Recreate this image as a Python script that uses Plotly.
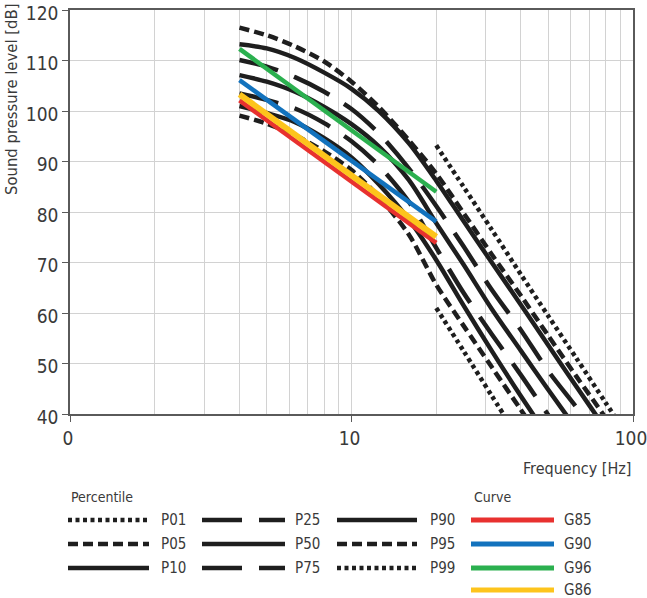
import plotly.graph_objects as go

# ---------------- data ----------------
F_ALL = [4, 5, 6.3, 8, 10, 12.5, 16, 20, 25, 31.5, 40, 50, 63, 80, 100]
F_P01 = [20, 25, 31.5, 40]
F_P99 = [20, 25, 31.5, 40, 50, 63, 80, 100]

P01 = [61.0, 52.5, 43.6, 34.5]
P05 = [99.1, 97.5, 95.2, 92.0, 88.3, 83.0, 75.5, 65.6, 57.5, 49.3, 40.8, 33.0]
P10 = [101.0, 99.6, 97.8, 94.6, 90.8, 85.5, 78.5, 70.5, 61.5, 52.5, 43.5, 35.5]
P25 = [103.5, 102.2, 100.5, 97.6, 94.0, 89.2, 82.0, 72.9, 64.0, 55.8, 47.7, 39.8, 32.0]
P50 = [107.1, 105.8, 103.8, 100.8, 97.4, 93.0, 86.3, 77.8, 69.6, 60.8, 52.5, 44.8, 37.0]
P75 = [110.1, 108.8, 106.7, 103.8, 100.4, 95.6, 88.6, 81.2, 73.2, 64.6, 56.6, 48.5, 41.3, 33.5]
P90 = [113.2, 112.4, 110.5, 107.6, 104.4, 100.0, 93.6, 86.2, 78.2, 70.0, 61.6, 53.6, 45.4, 37.0, 29.0]
P95 = [116.5, 115.0, 112.8, 109.8, 105.8, 100.8, 94.2, 87.6, 79.8, 71.6, 63.4, 55.5, 47.4, 39.2, 31.0]
P99 = [93.2, 85.0, 76.5, 67.6, 59.4, 51.0, 42.2, 34.0]

G_FREQ = [4, 20]
G85 = [102.1, 73.9]
G90 = [106.1, 78.1]
G96 = [112.3, 84.0]
G86 = [103.3, 75.1]

X_TICKS = [1, 10, 100]
X_TICKTEXT = ["0", "10", "100"]
X_MINOR = [2, 3, 4, 5, 6, 7, 8, 9, 20, 30, 40, 50, 60, 70, 80, 90]
Y_TICKS = [40, 50, 60, 70, 80, 90, 100, 110, 120]

# ---------------- styles ----------------
FONT = "Liberation Sans Narrow, Arial Narrow, DejaVu Sans Condensed, sans-serif"
TXT = "#3a3a3a"
BLACK = "#1e1e1e"
DOT = "4px,3.5px"
DASH = "10px,5px"
LONG = "40px,17px"
LW = 4.5

perc = [
    ("P01", F_P01, P01, DOT),
    ("P05", F_ALL, P05, DASH),
    ("P10", F_ALL, P10, "solid"),
    ("P25", F_ALL, P25, LONG),
    ("P50", F_ALL, P50, "solid"),
    ("P75", F_ALL, P75, LONG),
    ("P90", F_ALL, P90, "solid"),
    ("P95", F_ALL, P95, DASH),
    ("P99", F_P99, P99, DOT),
]
gcurves = [
    ("G85", G85, "#e8312f", 4.5),
    ("G86", G86, "#fdc41c", 6.0),
    ("G90", G90, "#1272bd", 4.5),
    ("G96", G96, "#2bb04f", 4.5),
]

fig = go.Figure()
for name, fx, fy, dash in perc:
    fig.add_trace(go.Scatter(
        x=fx[:len(fy)], y=fy, mode="lines", name=name, showlegend=False,
        line=dict(color=BLACK, width=LW, dash=dash, shape="spline", smoothing=0.8),
    ))
for name, gy, col, w in gcurves:
    fig.add_trace(go.Scatter(
        x=G_FREQ, y=gy, mode="lines", name=name, showlegend=False,
        line=dict(color=col, width=w),
    ))

W, H = 647, 598
L, R, T, B = 70, 14, 10, 184
PW, PH = W - L - R, H - T - B


def px(x):
    return (x - L) / PW


def py(y):
    return (H - B - y) / PH


fig.update_layout(
    width=W, height=H,
    margin=dict(l=L, r=R, t=T, b=B, autoexpand=False),
    paper_bgcolor="white", plot_bgcolor="white",
    font=dict(family=FONT, color=TXT),
    showlegend=False,
    xaxis=dict(
        type="log", range=[0, 2], automargin=False,
        tickmode="array", tickvals=X_TICKS, ticktext=X_TICKTEXT,
        tickfont=dict(size=19, family=FONT, color=TXT),
        ticklabeloverflow="allow", ticklabelshift=-2,
        showgrid=True, gridcolor="#d2d2d2", gridwidth=1,
        minor=dict(tickmode="array", tickvals=X_MINOR, showgrid=True,
                   gridcolor="#d2d2d2", gridwidth=1, ticks=""),
        showline=True, linecolor="#5a5a5a", linewidth=1.5, mirror=True,
        ticks="outside", ticklen=6, tickcolor="#5a5a5a",
        zeroline=False,
    ),
    yaxis=dict(
        range=[40, 120], automargin=False, tickmode="array", tickvals=Y_TICKS,
        tickfont=dict(size=19, family=FONT, color=TXT),
        ticklabeloverflow="allow", ticklabelshift=3,
        showgrid=True, gridcolor="#d2d2d2", gridwidth=1,
        showline=True, linecolor="#5a5a5a", linewidth=1.5, mirror=True,
        ticks="outside", ticklen=6, tickcolor="#5a5a5a",
        zeroline=False,
    ),
)

ann = []
shapes = []
# axis titles
ann.append(dict(text="Sound pressure level [dB]", textangle=-90, xref="paper", yref="paper",
                x=px(12), y=py(100), xanchor="center", yanchor="middle", showarrow=False,
                font=dict(size=16.5, family=FONT, color=TXT)))
ann.append(dict(text="Frequency [Hz]", xref="paper", yref="paper",
                x=px(633), y=py(469), xanchor="right", yanchor="middle", showarrow=False,
                font=dict(size=16, family=FONT, color=TXT)))
# legend headers
ann.append(dict(text="Percentile", xref="paper", yref="paper", x=px(69), y=py(497),
                xanchor="left", yanchor="middle", showarrow=False,
                font=dict(size=14, family=FONT, color=TXT)))
ann.append(dict(text="Curve", xref="paper", yref="paper", x=px(472), y=py(497),
                xanchor="left", yanchor="middle", showarrow=False,
                font=dict(size=14, family=FONT, color=TXT)))

ROWS = [520, 544, 568, 590]
COLS = [(68, 149, 159), (202, 285, 293), (337, 417, 428)]
for i, (name, _, _, dash) in enumerate(perc):
    c, r = divmod(i, 3)
    x0, x1, lx = COLS[c]
    y = ROWS[r]
    shapes.append(dict(type="line", xref="paper", yref="paper", x0=px(x0), x1=px(x1),
                       y0=py(y), y1=py(y), line=dict(color=BLACK, width=LW, dash=dash)))
    ann.append(dict(text=name, xref="paper", yref="paper", x=px(lx), y=py(y),
                    xanchor="left", yanchor="middle", showarrow=False,
                    font=dict(size=15, family=FONT, color=TXT)))
gcol = {g[0]: g[2] for g in gcurves}
for r, name in enumerate(["G85", "G90", "G96", "G86"]):
    y = ROWS[r]
    shapes.append(dict(type="line", xref="paper", yref="paper", x0=px(471), x1=px(554),
                       y0=py(y), y1=py(y), line=dict(color=gcol[name], width=5)))
    ann.append(dict(text=name, xref="paper", yref="paper", x=px(562), y=py(y),
                    xanchor="left", yanchor="middle", showarrow=False,
                    font=dict(size=15, family=FONT, color=TXT)))

fig.update_layout(annotations=ann, shapes=shapes)
fig.write_html("out.html")
